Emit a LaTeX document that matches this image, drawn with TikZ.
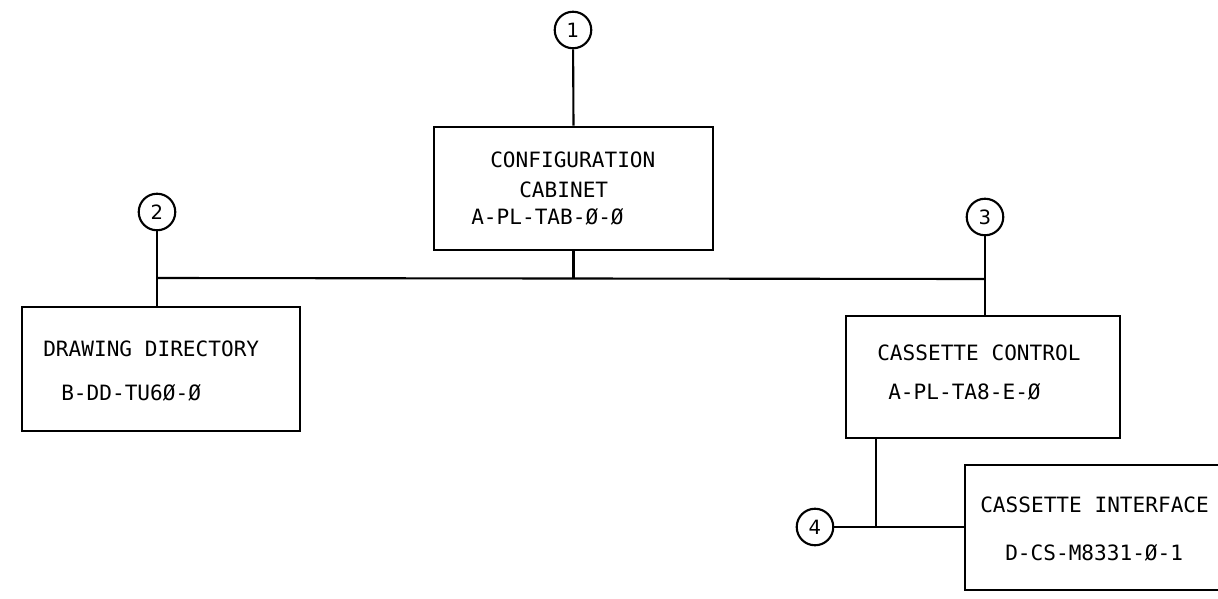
\documentclass[tikz,border=0pt]{standalone}
\usepackage{fontspec}
\setmonofont{DejaVu Sans Mono}
\newfontfamily\numfont{DejaVu Sans}
\usepackage{tikz}
\usetikzlibrary{calc,positioning}

\begin{document}
\begin{tikzpicture}[x=0.025cm, y=-0.025cm,
    unit/.style={draw, line width=1.9pt, inner sep=0pt},
    callout/.style={draw, circle, line width=1.5pt, minimum size=26pt, inner sep=0pt, font=\numfont\fontsize{14}{14}\selectfont},
    lbl/.style={anchor=west, inner sep=0pt, font=\ttfamily\fontsize{15}{15}\selectfont},
    wire/.style={line width=1.5pt}]
  \useasboundingbox (0,0) rectangle (1218,599);

  % Units
  \node[unit, minimum width=279*0.025cm, minimum height=123*0.025cm] (cfg) at (573.5, 188.5) {};
  \node[unit, minimum width=278*0.025cm, minimum height=124*0.025cm] (dwgdir) at (161, 369) {};
  \node[unit, minimum width=274*0.025cm, minimum height=122*0.025cm] (cassctl) at (983, 377) {};
  \node[unit, minimum width=290*0.025cm, minimum height=125*0.025cm] (cassif) at (1110, 527.5) {};

  % Labels
  \node[lbl] (cfgA) at (490, 160) {CONFIGURATION};
  \node[lbl] (cfgB) at (519, 190) {CABINET};
  \node[lbl] (cfgC) at (471, 217) {A-PL-TAB-Ø-Ø};
  \node[lbl] (dwgA) at (43, 349) {DRAWING DIRECTORY};
  \node[lbl] (dwgB) at (61, 393) {B-DD-TU6Ø-Ø};
  \node[lbl] (ctlA) at (877, 353) {CASSETTE CONTROL};
  \node[lbl] (ctlB) at (888, 392) {A-PL-TA8-E-Ø};
  \node[lbl] (ifA) at (980, 505) {CASSETTE INTERFACE};
  \node[lbl] (ifB) at (1005, 553) {D-CS-M8331-Ø-1};

  % Callouts
  \node[callout] (c1) at (573, 30) {1};
  \node[callout] (c2) at (157, 212) {2};
  \node[callout] (c3) at (985, 217) {3};
  \node[callout] (c4) at (815, 527) {4};

  \coordinate (busL) at (157, 278);
  \coordinate (busR) at (985, 279);
  \coordinate (tap) at (876, 528);

  % Connectors
  \draw[wire] (c1) -- (cfg.north);
  \draw[wire] (c2) -- (c2 |- dwgdir.north);
  \draw[wire] (c3) -- (c3 |- cassctl.north);
  \draw[wire] (busL) -- (busR);
  \draw[wire] (cfg.south) -- (cfg.south |- busL);
  \draw[wire] (tap |- cassctl.south) -- (tap);
  \draw[wire] (c4) -- (c4 -| cassif.west);
\end{tikzpicture}
\end{document}
